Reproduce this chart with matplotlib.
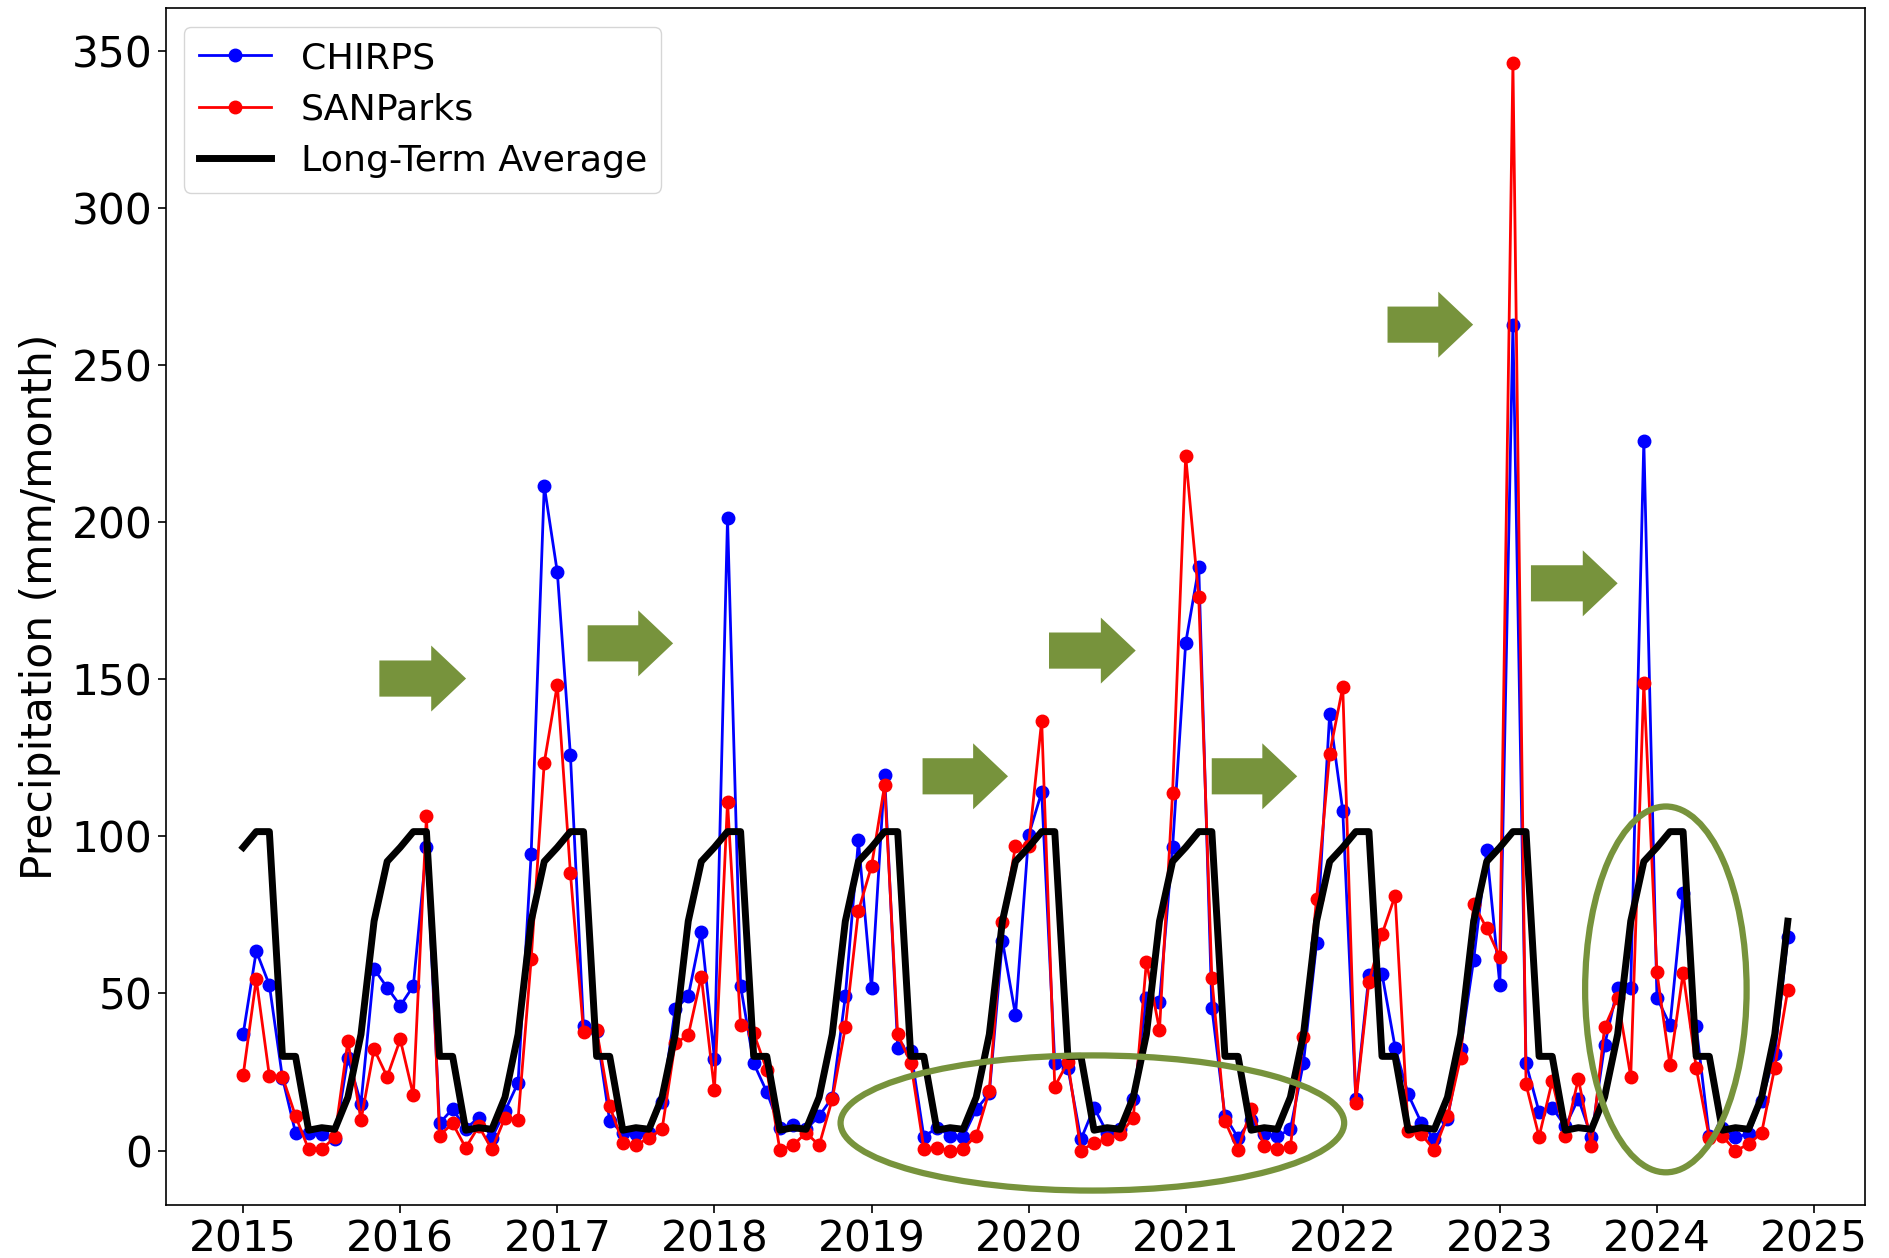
import numpy as np
import matplotlib
matplotlib.use("Agg")
import matplotlib.pyplot as plt
from matplotlib.patches import Ellipse, FancyArrow

# ---------------- data ----------------
start_year = 2015
chirps = [37.1, 63.5, 52.7, 23.2, 5.7, 5.5, 5.2, 3.6, 29.6, 15.0, 57.8, 51.9,
          46.1, 52.4, 96.5, 8.7, 13.3, 7.0, 10.5, 4.1, 12.6, 21.6, 94.4, 211.5,
          184.0, 125.8, 39.5, 38.0, 9.4, 5.7, 5.2, 5.7, 15.5, 45.0, 49.1, 69.7,
          29.3, 201.3, 52.4, 27.8, 18.7, 7.3, 8.3, 6.8, 11.0, 16.9, 49.1, 98.7,
          51.6, 119.6, 32.8, 31.7, 4.4, 7.3, 4.8, 4.4, 13.1, 18.2, 66.8, 43.1,
          100.3, 114.1, 28.0, 26.4, 3.6, 13.7, 5.7, 6.8, 16.3, 48.7, 47.3, 96.5,
          161.5, 185.6, 45.5, 11.0, 4.1, 9.9, 5.2, 4.6, 6.8, 28.0, 66.0, 139.0,
          108.2, 16.3, 55.8, 56.2, 32.8, 17.9, 8.9, 3.6, 10.2, 32.3, 60.7, 95.5,
          52.7, 262.8, 27.8, 12.3, 13.7, 7.8, 16.5, 4.4, 33.5, 51.9, 51.9, 225.9,
          48.7, 39.9, 82.0, 39.5, 4.6, 7.3, 4.4, 5.2, 15.8, 30.7, 67.9]
sanparks = [24.0, 54.6, 23.8, 23.5, 11.0, 0.4, 0.4, 4.3, 34.9, 9.7, 32.3, 23.5,
            35.4, 17.6, 106.4, 4.8, 8.7, 0.9, 7.8, 0.4, 10.5, 9.9, 60.9, 123.4,
            148.3, 88.3, 37.8, 38.5, 14.2, 2.5, 1.7, 4.1, 6.8, 34.2, 36.7, 55.4,
            19.3, 110.9, 39.9, 37.4, 25.7, 0.2, 1.7, 5.7, 1.7, 16.3, 39.2, 76.3,
            90.5, 116.2, 37.0, 28.0, 0.6, 0.9, 0.0, 0.6, 4.8, 19.0, 72.9, 96.9,
            96.9, 136.8, 20.4, 28.2, 0.0, 2.5, 3.6, 5.2, 10.5, 60.1, 38.4, 113.9,
            221.0, 176.0, 54.8, 9.4, 0.2, 13.3, 1.4, 0.6, 1.2, 36.0, 80.1, 126.3,
            147.5, 15.3, 53.7, 68.9, 81.1, 6.2, 5.2, 0.2, 11.0, 29.6, 78.5, 70.7,
            61.5, 346.1, 21.1, 4.4, 22.2, 4.6, 22.9, 1.4, 39.2, 48.7, 23.5, 148.7,
            56.7, 27.2, 56.5, 26.4, 4.1, 4.6, 0.0, 2.0, 5.7, 26.4, 51.2]
# monthly long-term average climatology (Jan..Dec)
lta_monthly = [96.5, 101.5, 101.5, 30.0, 30.0, 6.5, 7.3, 6.8, 17.0, 37.0, 73.0, 92.0]
year_ticks = list(range(2015, 2026))
y_ticks = [0, 50, 100, 150, 200, 250, 300, 350]
series_names = ["CHIRPS", "SANParks", "Long-Term Average"]

# annotation shapes (in data units): arrows (x_start, x_end, y) and ellipses
arrows = [(2015.867, 2016.419, 150.2), (2017.193, 2017.737, 161.4),
          (2019.325, 2019.869, 119.1), (2020.130, 2020.682, 159.1),
          (2021.166, 2021.710, 119.1), (2022.285, 2022.830, 262.8),
          (2023.198, 2023.750, 180.5)]
ellipses = [(2020.406, 8.8, 3.206, 43.0), (2024.057, 51.3, 1.028, 116.4)]

# ---------------- plot ----------------
n = len(chirps)
t = start_year + np.arange(n) / 12.0
lta = [lta_monthly[i % 12] for i in range(n)]

fig = plt.figure(figsize=(18.9, 12.58), dpi=100)
ax = fig.add_axes([0.0878, 0.0421, 0.899, 0.9512])

ax.plot(t, chirps, color="blue", marker="o", markersize=9, linewidth=2.0,
        label=series_names[0])
ax.plot(t, sanparks, color="red", marker="o", markersize=9, linewidth=2.0,
        label=series_names[1])
ax.plot(t, lta, color="black", linewidth=5.0, label=series_names[2])

xl = ax.get_xlim()
yl = ax.get_ylim()
ax.set_xlim(xl)
ax.set_ylim(yl)

olive = "#77933C"
for x0, x1, y in arrows:
    ax.add_patch(FancyArrow(x0, y, x1 - x0, 0, width=11.5, head_width=21.0,
                            head_length=0.222, length_includes_head=True,
                            color=olive, linewidth=0, zorder=5))
for cx, cy, w, h in ellipses:
    ax.add_patch(Ellipse((cx, cy), w, h, fill=False, edgecolor=olive,
                         linewidth=4.5, zorder=5))

ax.set_xticks(year_ticks)
ax.set_xticklabels([str(y) for y in year_ticks])
ax.set_yticks(y_ticks)
ax.tick_params(axis="both", labelsize=30.5, length=6, width=1.2)
ax.set_ylabel("Precipitation (mm/month)", fontsize=30.5, labelpad=8)
for s in ax.spines.values():
    s.set_linewidth(1.2)

ax.legend(loc="upper left", fontsize=26.2, framealpha=0.8, labelspacing=0.48)

fig.savefig("out.png", dpi=100)
